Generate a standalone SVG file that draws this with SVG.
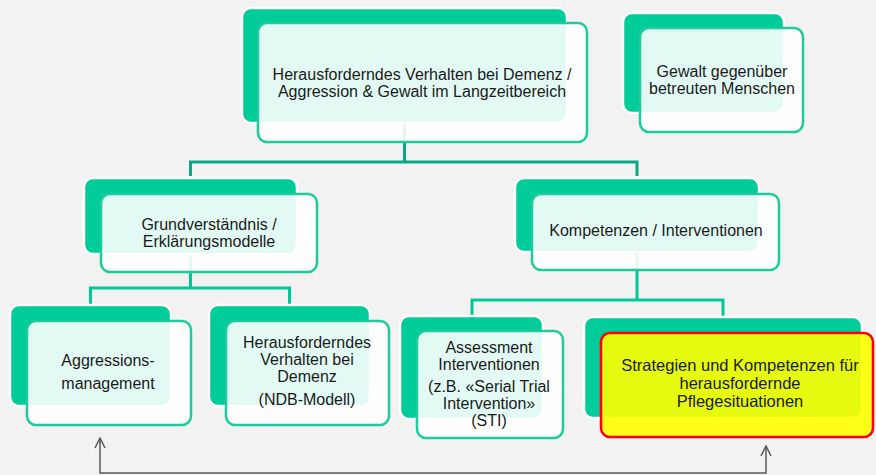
<svg xmlns="http://www.w3.org/2000/svg" width="876" height="475" viewBox="0 0 876 475">
<defs>
<style>
.back{fill:#00cc99;stroke:#ffffff;stroke-width:2.5}
.front{fill:#ffffff;fill-opacity:0.89;stroke:#1ecb9c;stroke-width:2.5}
.hl{fill:#ffff00;fill-opacity:0.9;stroke:#ff0000;stroke-width:2.5}
.t{font-family:"Liberation Sans",Arial,sans-serif;font-size:16px;fill:#1a1a1a;text-anchor:middle}
.big{font-size:16.5px}
.c1{fill:none;stroke:#0aa882;stroke-width:3}
.c2{fill:none;stroke:#00c896;stroke-width:3}
.ar{fill:none;stroke:#595959;stroke-width:1.5}
</style>
<marker id="ah" viewBox="0 0 12 12" refX="11" refY="6" markerWidth="12" markerHeight="12" markerUnits="userSpaceOnUse" orient="auto-start-reverse">
<path d="M1,1 L11,6 L1,11" fill="none" stroke="#595959" stroke-width="1.5"/>
</marker>
</defs>
<rect width="876" height="475" fill="#f2f2f2"/>
<g id="connectors">
<path class="c1" d="M404.5,123 V162"/>
<path class="c1" d="M190.5,176 V162 H637 V176"/>
<path class="c2" d="M190.5,254 V288"/>
<path class="c2" d="M90.5,304 V288 H289.5 V304"/>
<path class="c2" d="M637,252 V300"/>
<path class="c2" d="M472,315 V300 H723 V316"/>
<path class="ar" d="M100,438 V473 H766 V446" marker-start="url(#ah)" marker-end="url(#ah)"/>
</g>
<g id="node-top">
<rect class="back" x="242" y="8" width="325" height="115" rx="9"/>
<rect class="front" x="258" y="23" width="329" height="119" rx="9"/>
<text class="t" x="422" y="80">Herausforderndes Verhalten bei Demenz /</text>
<text class="t" x="422" y="97">Aggression &amp; Gewalt im Langzeitbereich</text>
</g>
<g id="node-gewalt">
<rect class="back" x="623" y="13" width="161" height="100" rx="9"/>
<rect class="front" x="640" y="28" width="163" height="104" rx="9"/>
<text class="t" x="722" y="77">Gewalt gegenüber</text>
<text class="t" x="722" y="94">betreuten Menschen</text>
</g>
<g id="node-grund">
<rect class="back" x="84" y="178" width="213" height="76" rx="9"/>
<rect class="front" x="101" y="194" width="216" height="78" rx="9"/>
<text class="t" x="209" y="230">Grundverständnis /</text>
<text class="t" x="209" y="247">Erklärungsmodelle</text>
</g>
<g id="node-komp">
<rect class="back" x="515" y="178" width="244" height="74" rx="9"/>
<rect class="front" x="532" y="194" width="247" height="76" rx="9"/>
<text class="t" x="656" y="236">Kompetenzen / Interventionen</text>
</g>
<g id="node-aggr">
<rect class="back" x="10" y="305" width="161" height="101" rx="9"/>
<rect class="front" x="27" y="321" width="164" height="104" rx="9"/>
<text class="t" x="108" y="366">Aggressions-</text>
<text class="t" x="108" y="389">management</text>
</g>
<g id="node-ndb">
<rect class="back" x="209" y="305" width="161" height="101" rx="9"/>
<rect class="front" x="226" y="321" width="163" height="104" rx="9"/>
<text class="t" x="307" y="348">Herausforderndes</text>
<text class="t" x="307" y="365">Verhalten bei</text>
<text class="t" x="307" y="382">Demenz</text>
<text class="t" x="307" y="405">(NDB-Modell)</text>
</g>
<g id="node-assess">
<rect class="back" x="400" y="316" width="143" height="103" rx="9"/>
<rect class="front" x="417" y="331" width="146" height="107" rx="9"/>
<text class="t" x="489" y="353">Assessment</text>
<text class="t" x="489" y="370">Interventionen</text>
<text class="t" x="489" y="392">(z.B. «Serial Trial</text>
<text class="t" x="489" y="409">Intervention»</text>
<text class="t" x="489" y="426">(STI)</text>
</g>
<g id="node-strat">
<rect class="back" x="584" y="317" width="278" height="101" rx="9"/>
<rect class="hl" x="601" y="333" width="272" height="104" rx="9"/>
<text class="t big" x="740" y="371">Strategien und Kompetenzen für</text>
<text class="t big" x="740" y="389">herausfordernde</text>
<text class="t big" x="740" y="407">Pflegesituationen</text>
</g>
</svg>
